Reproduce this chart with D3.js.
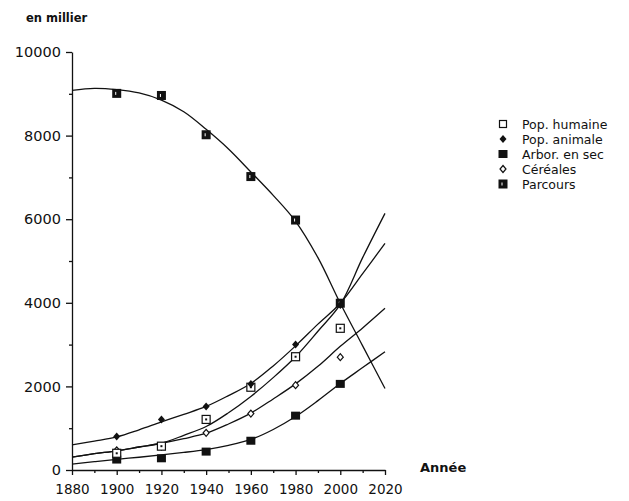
<!DOCTYPE html>
<html>
<head>
<meta charset="utf-8">
<script src="https://cdn.jsdelivr.net/npm/d3@7"></script>
<style>
  body { margin: 0; background: #fff; }
  svg { display: block; font-family: "DejaVu Sans", sans-serif; }
</style>
</head>
<body>
<div id="chart"></div>
<script>
// observed values (points)
const years = [1900, 1920, 1940, 1960, 1980, 2000];
const popHumaine = [400, 570, 1210, 1980, 2710, 3390];
const popAnimale = [800, 1210, 1520, 2060, 3000, 3950];
const arborSec = [250, 280, 440, 700, 1300, 2060];
const cereales = [470, 560, 890, 1350, 2030, 2700];
const parcours = [9010, 8960, 8020, 7020, 5980, 3990];

// trend curves
const curveYears = [1880, 1890, 1900, 1910, 1920, 1930, 1940, 1950, 1960, 1970, 1980, 1990, 2000, 2010, 2020];
const trendHumaine = [310, 390, 460, 550, 640, 830, 1040, 1370, 1760, 2210, 2710, 3320, 3960, 5080, 6140];
const trendAnimale = [600, 690, 790, 960, 1150, 1330, 1520, 1780, 2070, 2490, 2970, 3490, 3990, 4700, 5420];
const trendArbor = [140, 200, 256, 305, 360, 420, 490, 590, 730, 970, 1280, 1660, 2070, 2450, 2830];
const trendCereales = [310, 390, 460, 550, 640, 750, 880, 1100, 1360, 1700, 2060, 2480, 2960, 3400, 3870];
const trendParcours = [9080, 9130, 9100, 9020, 8850, 8570, 8150, 7680, 7130, 6570, 5950, 5080, 3990, 2970, 1950];

const yTicks = [0, 2000, 4000, 6000, 8000, 10000];
const yMinor = [1000, 3000, 5000, 7000, 9000];
const xTicks = [1880, 1900, 1920, 1940, 1960, 1980, 2000, 2020];
const xMinor = [1890, 1910, 1930, 1950, 1970, 1990, 2010];

const legendLabels = ["Pop. humaine", "Pop. animale", "Arbor. en sec", "Céréales", "Parcours"];

const width = 629, height = 501;
const svg = d3.select("#chart")
    .append("svg")
    .attr("width", width)
    .attr("height", height)
;

const x = d3.scaleLinear().domain([1880, 2020]).range([72, 385]);
const y = d3.scaleLinear().domain([0, 10000]).range([470, 52]);

// axes
const yAxis = svg.append("g")
    .attr("transform", "translate(72,0)")
    .call(d3.axisLeft(y).tickValues(yTicks).tickSize(6).tickSizeOuter(0).tickPadding(5).tickFormat(d3.format("d")));
svg.append("g")
    .attr("transform", "translate(72,0)")
    .call(d3.axisLeft(y).tickValues(yMinor).tickSize(3).tickSizeOuter(0).tickFormat(""))
    .select(".domain").remove();

const xAxis = svg.append("g")
    .attr("transform", "translate(0,470)")
    .call(d3.axisBottom(x).tickValues(xTicks).tickSize(5).tickSizeOuter(0).tickPadding(9).tickFormat(d3.format("d")));
svg.append("g")
    .attr("transform", "translate(0,470)")
    .call(d3.axisBottom(x).tickValues(xMinor).tickSize(3).tickSizeOuter(0).tickFormat(""))
    .select(".domain").remove();

svg.selectAll(".domain, .tick line")
    .attr("stroke", "#111")
    .attr("stroke-width", 1.3);

yAxis.selectAll("text")
    .style("font-size", "14.5px")
    .style("font-family", "'DejaVu Sans', sans-serif")
    .attr("fill", "#111");
xAxis.selectAll("text")
    .style("font-size", "13.5px")
    .style("font-family", "'DejaVu Sans', sans-serif")
    .attr("fill", "#111");

svg.append("text")
    .attr("x", 26).attr("y", 22)
    .style("font-size", "11.5px").style("font-weight", "bold")
    .attr("fill", "#111")
    .text("en millier");

svg.append("text")
    .attr("x", 420).attr("y", 472)
    .style("font-size", "13px").style("font-weight", "bold")
    .attr("fill", "#111")
    .text("Année");

// trend curves
const line = d3.line()
    .x((d, i) => x(curveYears[i]))
    .y(d => y(d))
    .curve(d3.curveCatmullRom.alpha(0.5));

[trendParcours, trendAnimale, trendHumaine, trendCereales, trendArbor].forEach(t => {
    svg.append("path")
        .attr("d", line(t))
        .attr("fill", "none")
        .attr("stroke", "#111")
        .attr("stroke-width", 1.3);
});

// marker shapes
function marker(g, kind) {
    if (kind === "squareOpen") {
        g.append("rect").attr("x", -4).attr("y", -4).attr("width", 8).attr("height", 8)
            .attr("fill", "#fff").attr("stroke", "#111").attr("stroke-width", 1.2);
        g.append("rect").attr("x", -1).attr("y", -1).attr("width", 2).attr("height", 2).attr("fill", "#111");
    } else if (kind === "diamondFilled") {
        g.append("path").attr("d", "M0,-4L3.5,0L0,4L-3.5,0Z").attr("fill", "#111");
    } else if (kind === "squareFilled") {
        g.append("rect").attr("x", -4.5).attr("y", -4).attr("width", 9).attr("height", 8).attr("fill", "#111");
    } else if (kind === "diamondOpen") {
        g.append("path").attr("d", "M0,-3.5L3,0L0,3.5L-3,0Z")
            .attr("fill", "#fff").attr("stroke", "#111").attr("stroke-width", 1.2);
    } else if (kind === "squareMarked") {
        g.append("rect").attr("x", -4.5).attr("y", -4.5).attr("width", 9).attr("height", 9).attr("fill", "#111");
        g.append("rect").attr("x", -1.5).attr("y", -1.5).attr("width", 1).attr("height", 3).attr("fill", "#fff");
    }
}

const series = [
    { values: parcours, kind: "squareMarked" },
    { values: arborSec, kind: "squareFilled" },
    { values: cereales, kind: "diamondOpen" },
    { values: popHumaine, kind: "squareOpen" },
    { values: popAnimale, kind: "diamondFilled" }
];

series.forEach(s => {
    s.values.forEach((v, i) => {
        const g = svg.append("g").attr("transform", `translate(${x(years[i])},${y(v)})`);
        marker(g, s.kind);
    });
});

// legend
const legendKinds = ["squareOpen", "diamondFilled", "squareFilled", "diamondOpen", "squareMarked"];
const legend = svg.append("g").attr("transform", "translate(503,124)");
legendLabels.forEach((lab, i) => {
    const row = legend.append("g").attr("transform", `translate(0,${i * 15})`);
    const m = row.append("g");
    if (legendKinds[i] === "squareOpen") {
        m.append("rect").attr("x", -3.5).attr("y", -3.5).attr("width", 7).attr("height", 7)
            .attr("fill", "#fff").attr("stroke", "#111").attr("stroke-width", 1.2);
    } else {
        marker(m, legendKinds[i]);
    }
    row.append("text")
        .attr("x", 19).attr("y", 4.5)
        .style("font-size", "12.5px")
        .attr("fill", "#111")
        .text(lab);
});
</script>
</body>
</html>
